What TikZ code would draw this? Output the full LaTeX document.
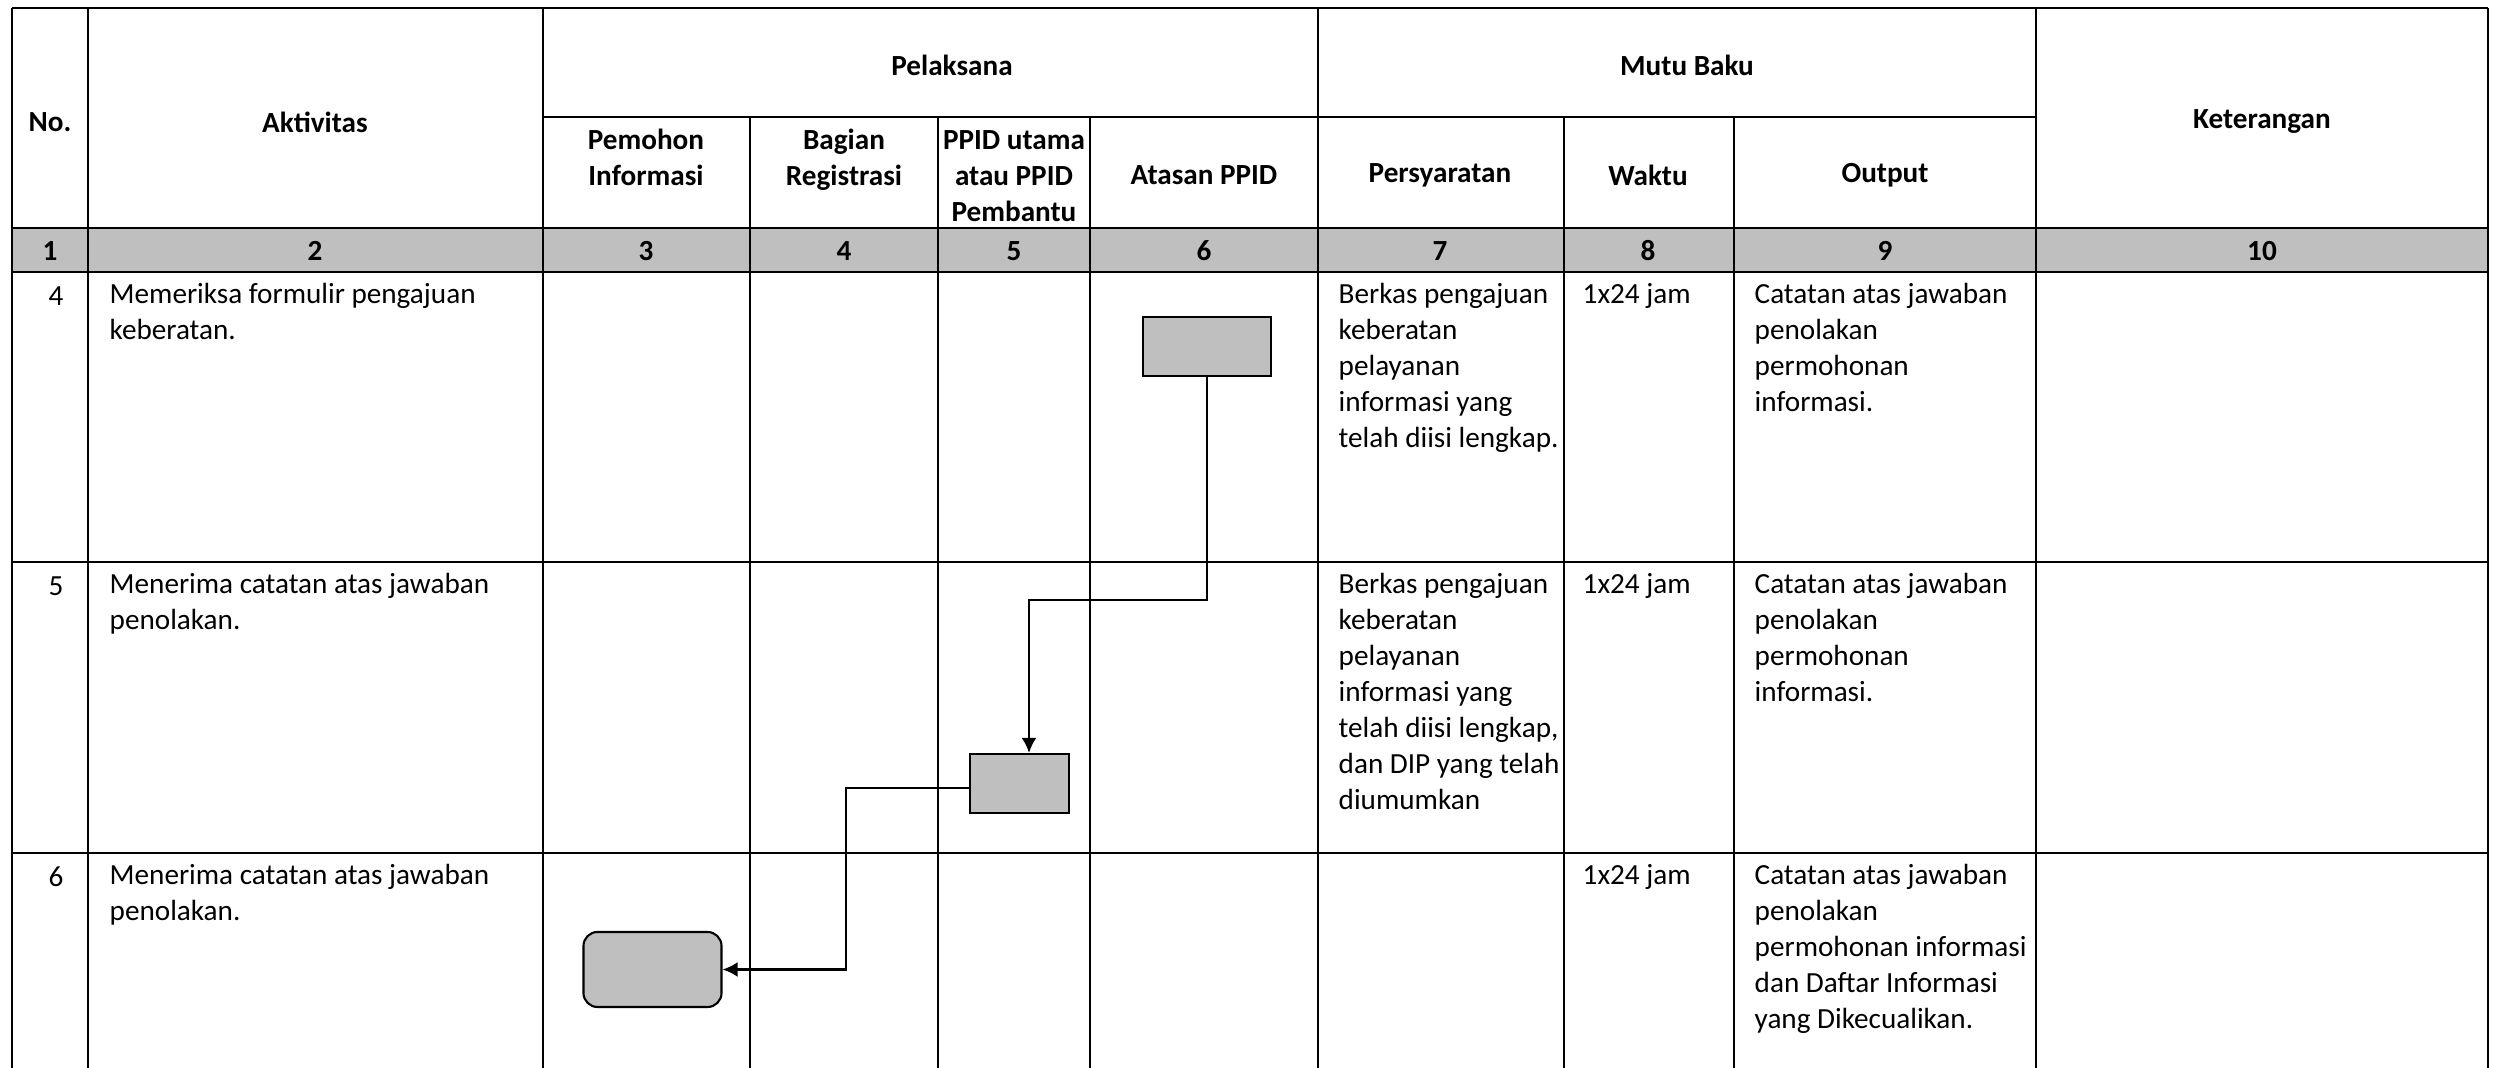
\documentclass[tikz,border=0pt]{standalone}
\usepackage{fontspec}
\setmainfont{Carlito}
\usetikzlibrary{arrows.meta,calc}
\definecolor{boxgray}{RGB}{191,191,191}
\newcommand\cellfont{\fontsize{8.3}{10.2}\selectfont}
\begin{document}
\begin{tikzpicture}[x=0.01cm,y=-0.01cm,
  thickln/.style={line width=0.8pt},
  thinln/.style={line width=0.5pt},
  txt/.style={anchor=north west,inner sep=0pt,align=left,font=\cellfont},
  num/.style={inner sep=0pt,font=\cellfont},
  hdr/.style={inner sep=0pt,align=center,font=\cellfont\bfseries},
  proc/.style={draw,line width=0.6pt,fill=boxgray,inner sep=0pt},
  flow/.style={line width=0.65pt,-{Latex[length=4.3pt,width=4.3pt]}}
]
\useasboundingbox[fill=white] (0,0) rectangle (2502,1068);
% gray numbering row
\fill[boxgray] (12,228) rectangle (2488,272);
% horizontal rules
\draw[thickln] (12,8) -- (2488,8);
\draw[thickln] (543,117) -- (2036,117);
\draw[thickln] (12,228) -- (2488,228);
\draw[thickln] (12,272) -- (2488,272);
\draw[thickln] (12,562) -- (2488,562);
\draw[thickln] (12,853) -- (2488,853);
% vertical rules
\draw[thickln] (12,8) -- (12,1068);
\draw[thickln] (2488,8) -- (2488,1068);
\foreach \x in {88,543,1318,2036} \draw[thinln] (\x,8) -- (\x,1068);
\foreach \x in {750,938,1090,1564,1734} \draw[thinln] (\x,117) -- (\x,1068);
% headers
\node[hdr] (hNo) at (50,122) {No.};
\node[hdr] (hAkt) at (315,122) {Aktivitas};
\node[hdr] (hPel) at (952,65) {Pelaksana};
\node[hdr] (hMutu) at (1687,65) {Mutu Baku};
\node[hdr] (hKet) at (2262,122) {Keterangan};
\node[hdr] (hPem) at (646,157) {Pemohon\\Informasi};
\node[hdr] (hBag) at (844,160) {Bagian\\Registrasi};
\node[hdr] (hPPID) at (1014,176) {PPID utama\\atau PPID\\Pembantu};
\node[hdr] (hAtas) at (1204,175) {Atasan PPID};
\node[hdr] (hPers) at (1440,175) {Persyaratan};
\node[hdr] (hWak) at (1648,175) {Waktu};
\node[hdr] (hOut) at (1885,175) {Output};
% numbering row
\node[hdr] (n1) at (50,251) {1};
\node[hdr] (n2) at (315,251) {2};
\node[hdr] (n3) at (646,251) {3};
\node[hdr] (n4) at (844,251) {4};
\node[hdr] (n5) at (1014,251) {5};
\node[hdr] (n6) at (1204,251) {6};
\node[hdr] (n7) at (1440,251) {7};
\node[hdr] (n8) at (1648,251) {8};
\node[hdr] (n9) at (1885,251) {9};
\node[hdr] (n10) at (2262,251) {10};
% row 4
\node[num] (r4no) at (56,296) {4};
\node[txt] (r4akt) at (109,278) {\strut Memeriksa formulir pengajuan\\keberatan.};
\node[txt] (r4per) at (1338,278) {\strut Berkas pengajuan\\keberatan\\pelayanan\\informasi yang\\telah diisi lengkap.};
\node[txt] (r4wak) at (1582,278) {\strut 1x24 jam};
\node[txt] (r4out) at (1754,278) {\strut Catatan atas jawaban\\penolakan\\permohonan\\informasi.};
% row 5
\node[num] (r5no) at (56,586) {5};
\node[txt] (r5akt) at (109,568) {\strut Menerima catatan atas jawaban\\penolakan.};
\node[txt] (r5per) at (1338,568) {\strut Berkas pengajuan\\keberatan\\pelayanan\\informasi yang\\telah diisi lengkap,\\dan DIP yang telah\\diumumkan};
\node[txt] (r5wak) at (1582,568) {\strut 1x24 jam};
\node[txt] (r5out) at (1754,568) {\strut Catatan atas jawaban\\penolakan\\permohonan\\informasi.};
% row 6
\node[num] (r6no) at (56,877) {6};
\node[txt] (r6akt) at (109,859) {\strut Menerima catatan atas jawaban\\penolakan.};
\node[txt] (r6wak) at (1582,859) {\strut 1x24 jam};
\node[txt] (r6out) at (1754,859) {\strut Catatan atas jawaban\\penolakan\\permohonan informasi\\dan Daftar Informasi\\yang Dikecualikan.};
% flow shapes
\node[proc,minimum width=1.28cm,minimum height=0.59cm] (A) at (1207,346.5) {};
\node[proc,minimum width=0.99cm,minimum height=0.59cm] (B) at (1019.5,783.5) {};
\node[proc,rounded corners=4pt,minimum width=1.38cm,minimum height=0.75cm] (C) at (652.5,969.5) {};
% connectors
\coordinate (b1) at (1029,600);
\coordinate (c2) at (846,900);
\draw[flow] (A.south) |- (b1) -- (b1 |- B.north);
\draw[flow] ([yshift=-1.2pt]B.west) -| (c2) |- (C.east);
\end{tikzpicture}
\end{document}
